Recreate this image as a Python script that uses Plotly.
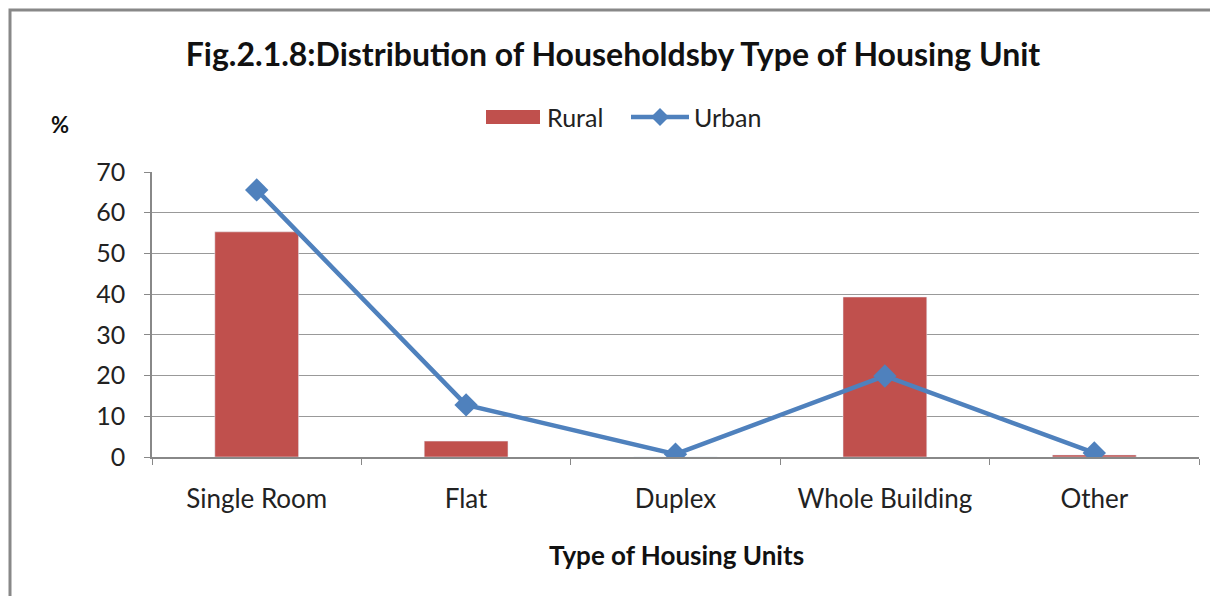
import plotly.graph_objects as go

categories = ["Single Room", "Flat", "Duplex", "Whole Building", "Other"]
rural = [55.3, 3.9, 0.0, 39.3, 0.5]
urban = [65.6, 12.8, 0.7, 19.9, 1.0]
y_ticks = [0, 10, 20, 30, 40, 50, 60, 70]

RED, BLUE = "#C0504D", "#4F81BD"
FONT = "Lato"
OFF = 8  # page body margin
W, H = 1218 - OFF, 596 - OFF
# plot area in screen pixels
PX0, PX1, PY0, PY1 = 152, 1199, 172, 457
L, R, T, B = PX0 - OFF, W - (PX1 - OFF), PY0 - OFF, H - (PY1 - OFF)
pw, ph = PX1 - PX0, PY1 - PY0


def px(x):
    return (x - PX0) / pw


def py(y):
    return (PY1 - y) / ph


fig = go.Figure()
fig.add_trace(go.Bar(x=categories, y=rural, name="Rural", marker_color=RED,
                     width=0.4, showlegend=False))
fig.add_trace(go.Scatter(x=categories, y=urban, name="Urban", mode="lines+markers",
                         line=dict(color=BLUE, width=4.5),
                         marker=dict(symbol="diamond", size=18, color=BLUE),
                         showlegend=False))

fig.update_layout(
    width=W, height=H,
    margin=dict(l=L, r=R, t=T, b=B),
    paper_bgcolor="white", plot_bgcolor="white",
    font=dict(family=FONT, color="#222", size=26),
    title=dict(text="<b>Fig.2.1.8:Distribution of Householdsby Type of Housing Unit</b>",
               x=0.5, xanchor="center", y=1 - (55 - OFF) / H, yanchor="middle",
               font=dict(size=32, color="#111")),
    showlegend=False,
    xaxis=dict(showline=True, linecolor="#888", linewidth=1.5,
               ticks="outside", ticklen=6, tickcolor="#888", tickson="boundaries",
               tickfont=dict(size=26), ticklabelstandoff=18),
    yaxis=dict(range=[0, 70], tickvals=y_ticks, showgrid=True, gridcolor="#999",
               gridwidth=1, showline=True, linecolor="#888", linewidth=1.5,
               ticks="outside", ticklen=6, tickcolor="#888",
               tickfont=dict(size=25), zeroline=False, ticklabelstandoff=14),
)

# axis title
fig.add_annotation(text="<b>Type of Housing Units</b>", xref="paper", yref="paper",
                   x=px(676), y=py(555), showarrow=False, xanchor="center",
                   yanchor="middle", font=dict(size=26, color="#111"))
# unit label
fig.add_annotation(text="<b>%</b>", xref="paper", yref="paper",
                   x=px(60), y=py(125), showarrow=False,
                   xanchor="center", yanchor="middle", font=dict(size=22, color="#111"))

# legend (drawn manually)
fig.add_shape(type="rect", xref="paper", yref="paper",
              x0=px(486), x1=px(540), y0=py(124), y1=py(110),
              line=dict(width=0), fillcolor=RED)
fig.add_annotation(text="Rural", xref="paper", yref="paper", x=px(545), y=py(117),
                   showarrow=False, xanchor="left", yanchor="middle",
                   font=dict(size=25, color="#222"))
fig.add_shape(type="line", xref="paper", yref="paper",
              x0=px(631), x1=px(689), y0=py(117), y1=py(117),
              line=dict(color=BLUE, width=4.5))
fig.add_shape(type="path", xref="paper", yref="paper",
              path=f"M {px(660)},{py(108)} L {px(669)},{py(117)} L {px(660)},{py(126)} L {px(651)},{py(117)} Z",
              line=dict(width=0), fillcolor=BLUE)
fig.add_annotation(text="Urban", xref="paper", yref="paper", x=px(692), y=py(117),
                   showarrow=False, xanchor="left", yanchor="middle",
                   font=dict(size=25, color="#222"))

# chart border
fig.add_shape(type="rect", xref="paper", yref="paper",
              x0=px(10), x1=px(1240), y0=py(620), y1=py(10),
              line=dict(color="#888", width=3), fillcolor="rgba(0,0,0,0)", layer="below")

fig.write_html("out.html")
